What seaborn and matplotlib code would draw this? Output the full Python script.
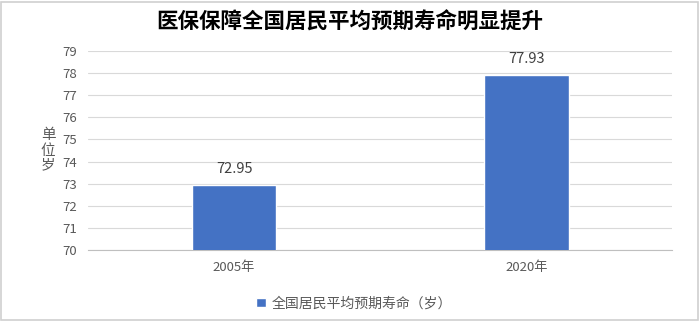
import matplotlib
matplotlib.use("Agg")
import matplotlib.pyplot as plt
import seaborn as sns
import pandas as pd
from matplotlib.patches import Rectangle

years = ["2005年", "2020年"]
values = [72.95, 77.93]
series_name = "全国居民平均预期寿命（岁）"
title = "医保保障全国居民平均预期寿命明显提升"
ylabel = "单\n位\n岁"
yticks = list(range(70, 80))

sns.set_theme(style="white")
plt.rcParams['font.family'] = ['Noto Sans CJK SC', 'DejaVu Sans']

df = pd.DataFrame({"year": years, "value": values, "series": series_name})

fig = plt.figure(figsize=(7.0, 3.21), dpi=100)
ax = fig.add_axes([0.1257, 0.221, 0.835, 0.620])
sns.barplot(data=df, x="year", y="value", hue="series", palette=["#4472C4"],
            saturation=1, width=0.29, ax=ax, zorder=3)

ax.set_ylim(70, 79)
ax.set_yticks(yticks)
ax.yaxis.grid(True, color="#D9D9D9", linewidth=0.8, zorder=0)
ax.set_axisbelow(True)
for s in ["top", "right", "left"]:
    ax.spines[s].set_visible(False)
ax.spines["bottom"].set_color("#BFBFBF")
ax.spines["bottom"].set_linewidth(0.8)
ax.tick_params(axis="both", length=0, colors="#595959", labelsize=9.5, pad=8)
ax.set_xlabel("")
ax.set_ylabel(ylabel, rotation=0, color="#595959", fontsize=10.5,
              linespacing=1.1, labelpad=10, va="center")

for c in ax.containers:
    ax.bar_label(c, labels=[f"{v:.2f}" for v in c.datavalues], padding=6,
                 color="#404040", fontsize=10.5)

leg = ax.legend(loc="upper center", bbox_to_anchor=(0.455, -0.17), frameon=False,
                fontsize=10, handlelength=0.7, handleheight=0.7, handletextpad=0.4)
for t in leg.get_texts():
    t.set_color("#595959")

fig.suptitle(title, x=0.5, y=0.965, fontsize=15.5, fontweight="bold", color="#000000")

fig.patches.append(Rectangle((0.002, 0.004), 0.995, 0.99, transform=fig.transFigure,
                             fill=False, edgecolor="#D0D0D0", linewidth=1.2))

fig.savefig("out.png", dpi=100)
